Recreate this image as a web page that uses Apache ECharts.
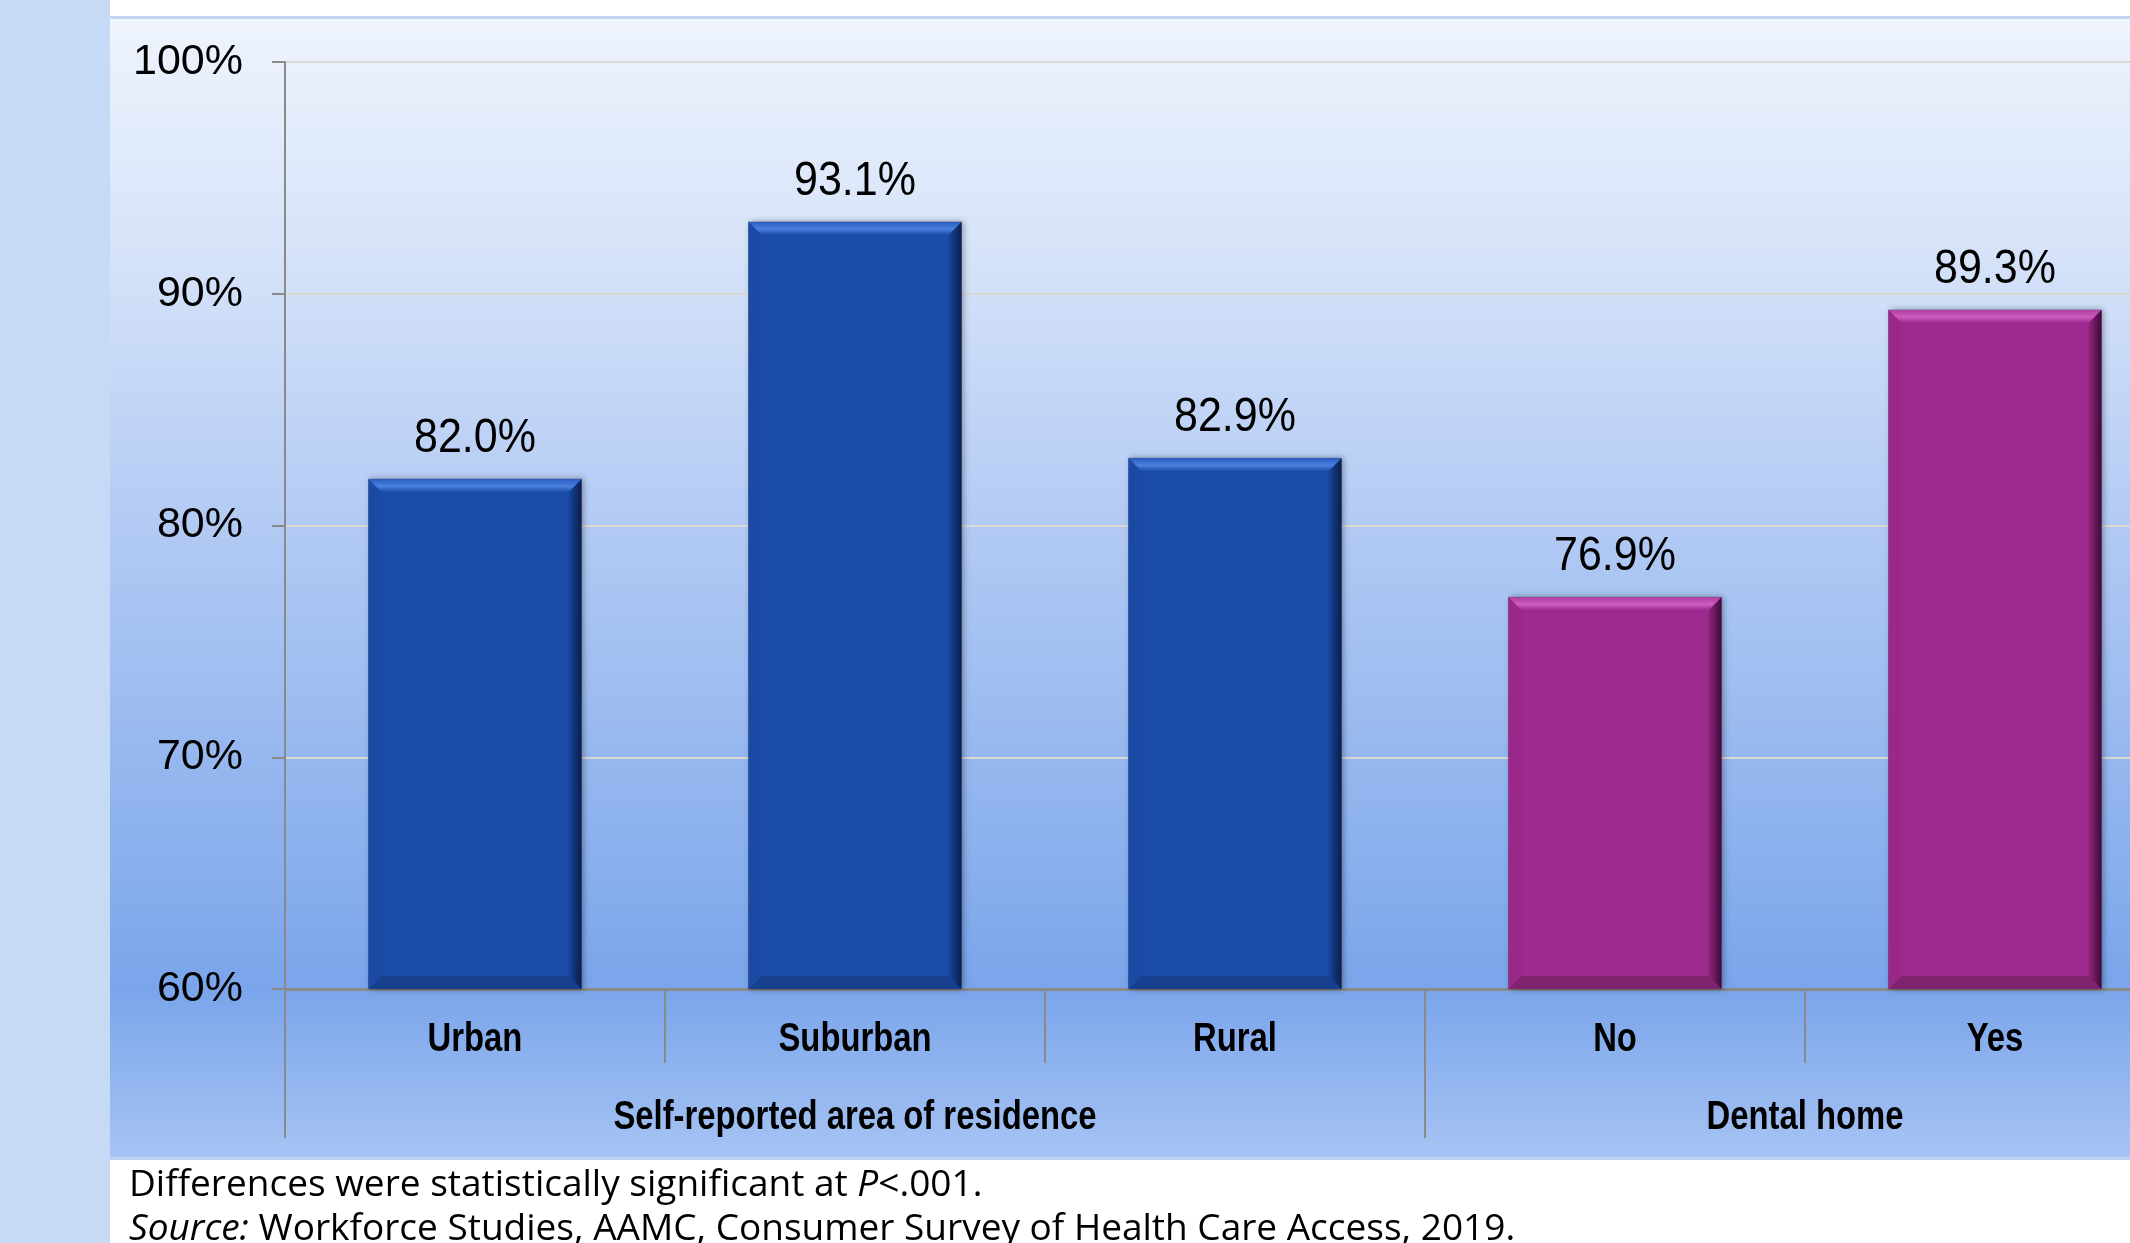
<!DOCTYPE html>
<html>
<head>
<meta charset="utf-8">
<script src="https://cdn.jsdelivr.net/npm/echarts@6/dist/echarts.min.js"></script>
<style>
html,body{margin:0;padding:0;background:#fff;}
#chart{width:2130px;height:1243px;}
</style>
</head>
<body>
<div id="chart"></div>
<script>
// ---- data ----
const categories = ['Urban', 'Suburban', 'Rural', 'No', 'Yes'];
const values = [82.0, 93.1, 82.9, 76.9, 89.3];
const groupOfCategory = [0, 0, 0, 1, 1];
const groupLabels = ['Self-reported area of residence', 'Dental home'];
const groupFirst = [0, 3];
const groupLast = [2, 4];
const yTicks = [60, 70, 80, 90, 100];
const footnote1 = 'Differences were statistically significant at ';
const footnote2 = ' Workforce Studies, AAMC, Consumer Survey of Health Care Access, 2019.';

// group axis: 11 boundary points; ticks at group edges
const groupAxisData = ['', '', '', '', '', '', '', '', '', '', ''];
const groupTickIdx = [0, 6, 10];

const palettes = [
  { main: '#1B4DA8', top1: '#2A5EC2', top2: '#4A80DE', right1: '#18479E', right2: '#0A1E4C', bottom: '#163F8E', left: '#1A4AA4' },
  { main: '#9E2A8F', top1: '#B23FA3', top2: '#CC5CBE', right1: '#92257F', right2: '#3E0A38', bottom: '#80236F', left: '#992889' }
];

const SANS = '"Liberation Sans", Arial, sans-serif';
const OPEN = '"Open Sans", "Noto Sans", sans-serif';
const NARROW_SCALE = 0.82;

const chart = echarts.init(document.getElementById('chart'), null, { renderer: 'canvas' });

const seriesData = categories.map((c, i) => [i, values[i], groupOfCategory[i]]);
const catLabelData = categories.map((c, i) => [i, yTicks[0]]);
const groupLabelData = groupLabels.map((g, i) => [groupFirst[i], groupLast[i]]);

function renderBar(params, api) {
  const xi = api.value(0), v = api.value(1), g = api.value(2);
  const p = palettes[g];
  const top = api.coord([xi, v]);
  const base = api.coord([xi, yTicks[0]]);
  const w = api.size([1, 0])[0] * 0.56;
  const x0 = top[0] - w / 2, x1 = top[0] + w / 2, y0 = top[1], y1 = base[1];
  const b = 13;
  return {
    type: 'group',
    children: [
      { type: 'rect', shape: { x: x0, y: y0, width: w, height: y1 - y0 },
        style: { fill: p.main, stroke: 'rgba(60,60,90,0.45)', lineWidth: 1,
                 shadowBlur: 6, shadowOffsetX: 2, shadowOffsetY: 0, shadowColor: 'rgba(0,0,0,0.35)' } },
      { type: 'polygon', shape: { points: [[x0, y0], [x0 + b, y0 + b], [x0 + b, y1 - b], [x0, y1]] },
        style: { fill: p.left } },
      { type: 'polygon', shape: { points: [[x1, y0], [x1, y1], [x1 - b, y1 - b], [x1 - b, y0 + b]] },
        style: { fill: new echarts.graphic.LinearGradient(0, 0, 1, 0, [
          { offset: 0, color: p.right1 }, { offset: 1, color: p.right2 }]) } },
      { type: 'polygon', shape: { points: [[x0, y1], [x1, y1], [x1 - b, y1 - b], [x0 + b, y1 - b]] },
        style: { fill: p.bottom } },
      { type: 'polygon', shape: { points: [[x0, y0], [x1, y0], [x1 - b, y0 + b], [x0 + b, y0 + b]] },
        style: { fill: new echarts.graphic.LinearGradient(0, 0, 0, 1, [
          { offset: 0, color: p.top1 }, { offset: 0.55, color: p.top2 }, { offset: 1, color: p.main }]) } },
      { type: 'text', x: top[0], y: y0 - 40, scaleY: 1.1,
        style: { text: v.toFixed(1) + '%', x: 0, y: 0,
          align: 'center', verticalAlign: 'middle', fill: '#000',
          font: '43px ' + SANS } }
    ]
  };
}

function renderCatLabel(params, api) {
  const xi = api.value(0);
  const pt = api.coord([xi, api.value(1)]);
  return { type: 'text', x: pt[0], y: pt[1] + 51, scaleX: NARROW_SCALE,
    style: { text: categories[params.dataIndex], x: 0, y: 0, align: 'center', verticalAlign: 'middle',
      fill: '#000', font: 'bold 40px ' + SANS } };
}

function renderGroupLabel(params, api) {
  const a = api.coord([api.value(0), yTicks[0]]);
  const b = api.coord([api.value(1), yTicks[0]]);
  return { type: 'text', x: (a[0] + b[0]) / 2, y: a[1] + 129, scaleX: NARROW_SCALE,
    style: { text: groupLabels[params.dataIndex], x: 0, y: 0, align: 'center', verticalAlign: 'middle',
      fill: '#000', font: 'bold 40px ' + SANS } };
}

const option = {
  animation: false,
  graphic: [
    { type: 'rect', z: -10, shape: { x: 0, y: 0, width: 110, height: 1243 }, style: { fill: '#C7DAF5' } },
    { type: 'rect', z: -10, shape: { x: 110, y: 0, width: 2020, height: 16 }, style: { fill: '#FFFFFF' } },
    { type: 'rect', z: -10, shape: { x: 110, y: 16, width: 2020, height: 3 }, style: { fill: '#C3D6F5' } },
    { type: 'rect', z: -10, shape: { x: 110, y: 19, width: 2020, height: 1138 },
      style: { fill: new echarts.graphic.LinearGradient(0, 0, 0, 1, [
        { offset: 0, color: '#EFF4FD' },
        { offset: 0.247, color: '#D0DFF8' },
        { offset: 0.405, color: '#B8CEF5' },
        { offset: 0.598, color: '#9DBCF0' },
        { offset: 0.852, color: '#7AA5EB' },
        { offset: 1, color: '#A6C3F3' }]) } },
    { type: 'rect', z: -10, shape: { x: 110, y: 1157, width: 2020, height: 3 }, style: { fill: '#BFD3F4' } },
    { type: 'rect', z: -10, shape: { x: 110, y: 1160, width: 2020, height: 83 }, style: { fill: '#FFFFFF' } },
    { type: 'text', z: 10, x: 129, y: 1185,
      style: { text: '{n|' + footnote1 + '}{i|P}{n|<.001.}', verticalAlign: 'middle',
        rich: { n: { font: '37px ' + OPEN, fill: '#000' }, i: { font: 'italic 37px ' + OPEN, fill: '#000' } } } },
    { type: 'text', z: 10, x: 129, y: 1229,
      style: { text: '{i|Source:}{n|' + footnote2 + '}', verticalAlign: 'middle',
        rich: { n: { font: '37px ' + OPEN, fill: '#000' }, i: { font: 'italic 37px ' + OPEN, fill: '#000' } } } }
  ],
  grid: { left: 285, top: 62, right: -55, height: 927, containLabel: false, outerBoundsMode: 'none' },
  xAxis: [
    {
      type: 'category', data: categories, position: 'bottom', offset: 0,
      axisLine: { show: true, lineStyle: { color: '#8A8A8A', width: 3 } },
      axisTick: { show: true, alignWithLabel: false, interval: 0, length: 74, lineStyle: { color: '#8A8A8A', width: 2 } },
      axisLabel: { show: false },
      splitLine: { show: false }
    },
    {
      type: 'category', data: groupAxisData, boundaryGap: false, position: 'bottom', offset: 0,
      axisLine: { show: false },
      axisTick: { show: true, length: 149, interval: (idx) => groupTickIdx.indexOf(idx) >= 0, lineStyle: { color: '#8A8A8A', width: 2 } },
      axisLabel: { show: false },
      splitLine: { show: false }
    }
  ],
  yAxis: {
    type: 'value', min: yTicks[0], max: yTicks[yTicks.length - 1], interval: 10,
    axisLine: { show: true, lineStyle: { color: '#8A8A8A', width: 2 } },
    axisTick: { show: true, length: 13, lineStyle: { color: '#8A8A8A', width: 2 } },
    axisLabel: { margin: 42, fontFamily: SANS, fontSize: 43, color: '#000', formatter: '{value}%' },
    splitLine: { show: true, lineStyle: { color: '#DAD8D2', width: 2 } }
  },
  series: [
    { type: 'custom', name: 'bars', xAxisIndex: 0, yAxisIndex: 0, renderItem: renderBar,
      data: seriesData, clip: false, z: 5 },
    { type: 'custom', name: 'categoryLabels', xAxisIndex: 0, yAxisIndex: 0, renderItem: renderCatLabel,
      data: catLabelData, clip: false, z: 6, silent: true },
    { type: 'custom', name: 'groupLabels', xAxisIndex: 0, yAxisIndex: 0, renderItem: renderGroupLabel,
      data: groupLabelData, clip: false, z: 6, silent: true }
  ]
};
chart.setOption(option);
</script>
</body>
</html>
